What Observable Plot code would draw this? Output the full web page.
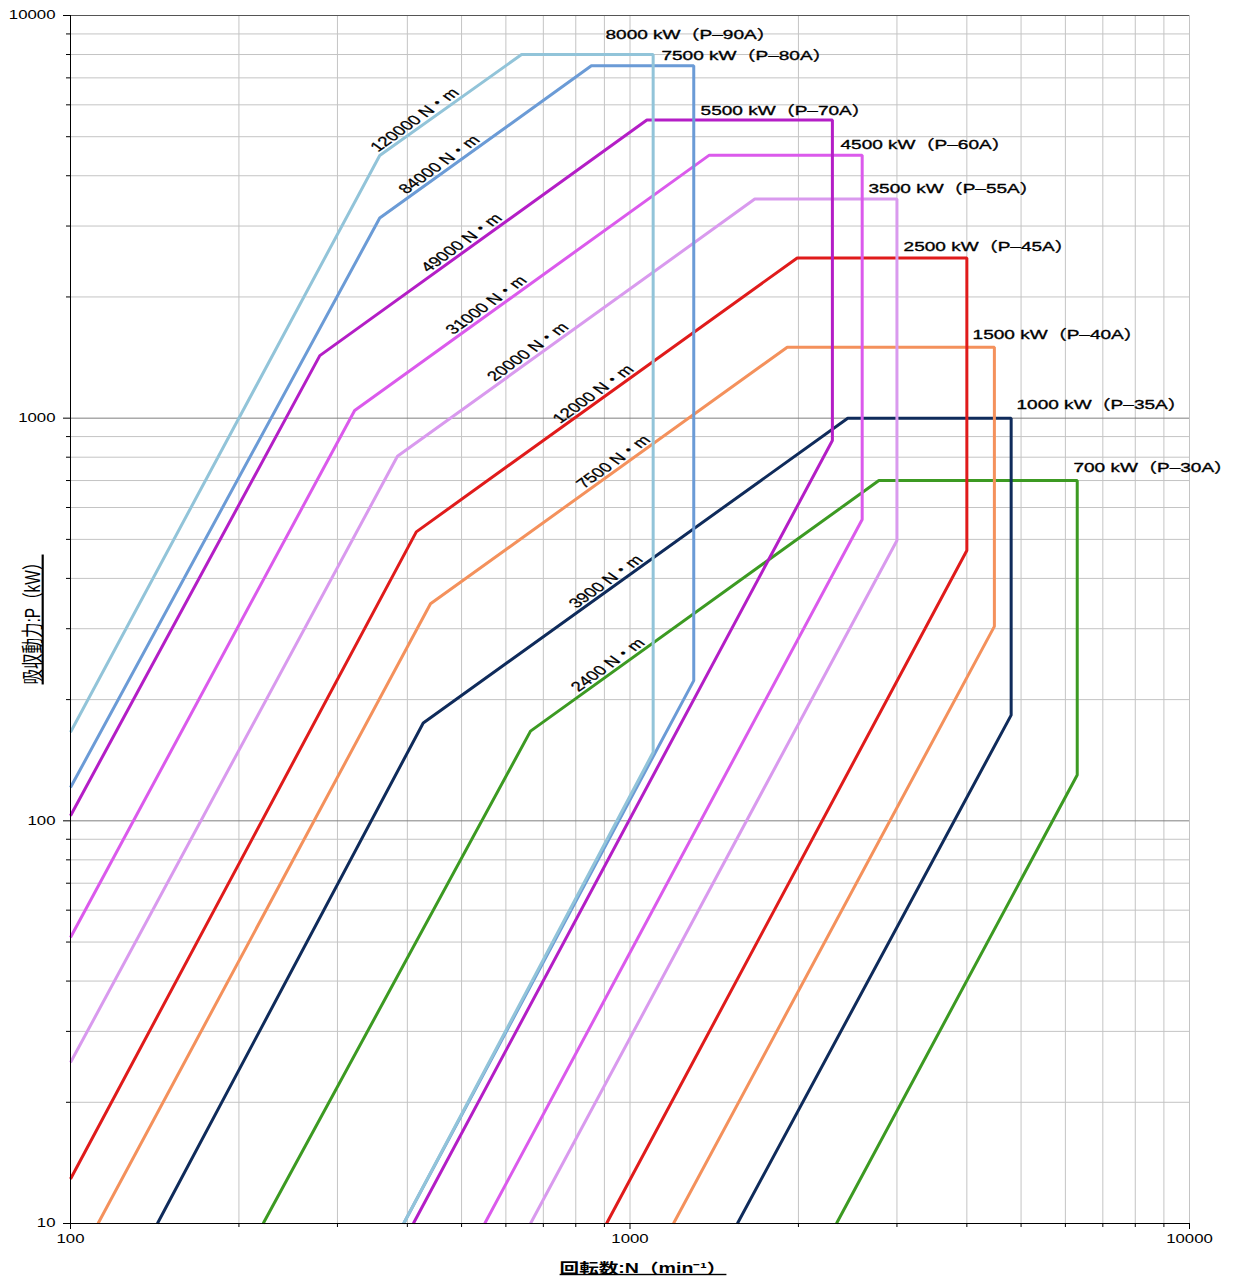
<!DOCTYPE html>
<html><head><meta charset="utf-8">
<script src="https://cdn.jsdelivr.net/npm/d3@7"></script>
<script src="https://cdn.jsdelivr.net/npm/@observablehq/plot@0.6"></script>
<style>
body{margin:0;background:#fff;}
#chart svg{display:block;}
</style></head><body><div id="chart"></div>
<script>
// ---- data ----
const models = ["P–90A","P–80A","P–70A","P–60A","P–55A","P–45A","P–40A","P–35A","P–30A"];
const ratedPower = [8000,7500,5500,4500,3500,2500,1500,1000,700];        // kW
const ratedTorque = [120000,84000,49000,31000,20000,12000,7500,3900,2400]; // N·m
// vertices of each envelope: speed (min^-1) and absorbed power (kW)
const curveSpeeds = [
  [100, 357, 640, 1100, 1100, 394],
  [100, 357, 853, 1300, 1300, 394],
  [100, 279, 1072, 2300, 2300, 410],
  [100, 322, 1386, 2600, 2600, 550],
  [100, 384, 1671, 3000, 3000, 664],
  [100, 415, 1990, 4000, 4000, 908],
  [112, 440, 1910, 4480, 4480, 1196],
  [143, 427, 2450, 4800, 4800, 1556],
  [221, 664, 2785, 6300, 6300, 2339]
];
const curvePowers = [
  [166, 4490, 8000, 8000, 148, 10],
  [121, 3140, 7500, 7500, 223, 10],
  [103, 1430, 5500, 5500, 880, 10],
  [51.3, 1045, 4500, 4500, 560, 10],
  [25.1, 804, 3500, 3500, 497, 10],
  [12.9, 522, 2500, 2500, 469, 10],
  [10, 346, 1500, 1500, 304, 10],
  [10, 175, 1000, 1000, 183, 10],
  [10, 167, 700, 700, 130, 10]
];
// annotation anchors (data units)
const labelSpeed = [904, 1138, 1337, 2378, 2669, 3083, 4095, 4907, 6203];
const labelPower = [8970, 7960, 5810, 4780, 3720, 2670, 1610, 1080, 755];
const torqueLabelSpeed = [423, 468, 513, 568, 674, 882, 958, 929, 937];
// axis ticks
const xMajorTicks = [100, 1000, 10000];
const xMinorTicks = [200,300,400,500,600,700,800,900,2000,3000,4000,5000,6000,7000,8000,9000];
const yMajorTicks = [10, 100, 1000, 10000];
const yMinorTicks = [20,30,40,50,60,70,80,90,200,300,400,500,600,700,800,900,2000,3000,4000,5000,6000,7000,8000,9000];
const xTitle = "回転数:N（min⁻¹）";
const yTitle = "吸収動力:P（kW）";

// ---- styles ----
const lineColors = ["#92c4d9","#6b9bd6","#b41ec6","#db5aec","#d99aee","#e01b1b","#f4915c","#0f2b5b","#3c9a22"];
const W = 1235, H = 1280, mL = 70, mR = 46, mT = 15, mB = 57;
const S = 1.4; // horizontal text stretch seen in the reference
const slopePx = ((H - mT - mB) / 3) / ((W - mL - mR) / 2);
const torqueRotate = -Math.atan(S * slopePx) * 180 / Math.PI;

const lineMarks = [];
for (let i = models.length - 1; i >= 0; i--) {
  const pts = curveSpeeds[i].map((n, j) => ({speed: n, power: curvePowers[i][j]}));
  lineMarks.push(Plot.line(pts, {x: "speed", y: "power", stroke: lineColors[i], strokeWidth: 3, strokeLinejoin: "miter", strokeLinecap: "butt"}));
}
const powerLabels = models.map((m, i) => ({speed: labelSpeed[i], power: labelPower[i], text: `${ratedPower[i]} kW（${m}）`}));
const torqueLabels = ratedTorque.map((t, i) => ({
  speed: torqueLabelSpeed[i],
  power: t * 2 * Math.PI * torqueLabelSpeed[i] / 60 / 1000,
  text: `${t} N・m`
}));

const chart = Plot.plot({
  width: W, height: H,
  marginLeft: mL, marginRight: mR, marginTop: mT, marginBottom: mB,
  x: {type: "log", domain: [100, 10000]},
  y: {type: "log", domain: [10, 10000]},
  style: {fontFamily: "'Liberation Sans', Arial, 'Noto Sans CJK JP', sans-serif", fontSize: "12px", color: "#000", background: "#fff"},
  marks: [
    Plot.gridX({ticks: xMinorTicks.concat([1000, 10000]), stroke: "#c4c4c4", strokeOpacity: 1, strokeWidth: 1}),
    Plot.gridY({ticks: yMinorTicks, stroke: "#c4c4c4", strokeOpacity: 1, strokeWidth: 1}),
    Plot.gridY({ticks: [100, 1000], stroke: "#7f7f7f", strokeOpacity: 1, strokeWidth: 1}),
    Plot.ruleY([10000], {stroke: "#555"}),
    ...lineMarks,
    Plot.ruleX([100], {stroke: "#000"}),
    Plot.ruleY([10], {stroke: "#000"}),
    Plot.axisX({ticks: xMajorTicks, tickSize: 6, tickPadding: 5, tickFormat: d => String(d), label: null, fontSize: 12}),
    Plot.axisX({ticks: xMinorTicks, tickSize: 4, tickFormat: () => "", label: null}),
    Plot.axisY({ticks: yMajorTicks, tickSize: 7, tickPadding: 8, tickFormat: d => String(d), label: null, fontSize: 12}),
    Plot.axisY({ticks: yMinorTicks, tickSize: 4, tickFormat: () => "", label: null}),
    Plot.text(powerLabels, {x: "speed", y: "power", text: "text", textAnchor: "start", lineAnchor: "middle", fontSize: 13.6, fill: "#000", stroke: "#000", strokeWidth: 0.35}),
    Plot.text(torqueLabels, {x: "speed", y: "power", text: "text", textAnchor: "middle", lineAnchor: "bottom", rotate: torqueRotate, fontSize: 13.5, fill: "#000", stroke: "#000", strokeWidth: 0.25, dx: -2, dy: -3}),
    Plot.text([xTitle], {frameAnchor: "bottom", textAnchor: "middle", lineAnchor: "middle", dy: 45, dx: 13, fontSize: 14, fontWeight: "bold", fill: "#000"}),
    Plot.text([yTitle], {frameAnchor: "left", textAnchor: "middle", lineAnchor: "middle", dx: -37, rotate: -90, fontSize: 15.5, fill: "#000"})
  ]
});

// stretch text horizontally like the reference picture
chart.querySelectorAll("text").forEach(t => {
  const tr = t.getAttribute("transform") || "";
  const m = tr.match(/^(translate\([^)]*\))(.*)$/);
  if (m) t.setAttribute("transform", `${m[1]} scale(${S},1)${m[2]}`);
  if (t.textContent === xTitle || t.textContent === yTitle) t.style.textDecoration = "underline";
});
document.getElementById("chart").append(chart);
</script>
</body></html>
